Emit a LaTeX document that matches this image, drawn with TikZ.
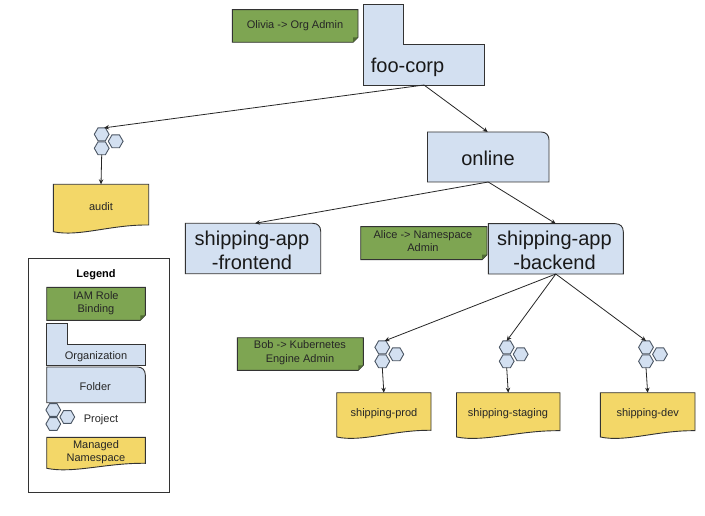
\documentclass[tikz,border=0pt]{standalone}
\usepackage{fontspec}
\setmainfont{Liberation Sans}
\usetikzlibrary{arrows.meta,shapes.geometric}
\definecolor{greenfill}{HTML}{7EA552}
\definecolor{greenfold}{HTML}{4F6B33}
\definecolor{bluefill}{HTML}{D3E0F1}
\definecolor{yellowfill}{HTML}{F3D768}
\definecolor{inkline}{HTML}{333333}
\definecolor{hexline}{HTML}{4A5563}
\tikzset{
  anchorbox/.style={inner sep=0pt,outer sep=0pt,draw=none},
  outlined/.style={draw=inkline,line width=0.9pt,line join=miter},
  noteshape/.style={outlined,fill=greenfill},
  blueshape/.style={outlined,fill=bluefill},
  docshape/.style={outlined,fill=yellowfill},
  hexnode/.style={regular polygon,regular polygon sides=6,minimum size=14.8pt,inner sep=0pt,outer sep=0pt,draw=hexline,line width=0.9pt,fill=bluefill},
  smalltext/.style={align=center,inner sep=0pt,yshift=-1.3pt,text=black!85,font=\fontsize{11}{13.3}\selectfont},
  bigtext/.style={align=center,inner sep=0pt,yshift=-1pt,text=black!90,font=\fontsize{20}{23.8}\selectfont},
  legendtitle/.style={inner sep=0pt,yshift=-0.7pt,font=\fontsize{11}{13.3}\selectfont\bfseries},
  legendbox/.style={draw=inkline,line width=0.9pt,fill=white},
  connector/.style={draw=black!85,line width=0.8pt,-{Stealth[length=5pt,width=4.5pt]}}
}
\newcommand{\placebox}[5]{\node[anchorbox,minimum width={(#4-#2)*1pt},minimum height={(#5-#3)*1pt}] (#1) at ({(#2+#4)/2},{(#3+#5)/2}) {};}
\newcommand{\notebox}[5]{%
  \draw[noteshape] (#2,#3) -- (#4,#3) -- (#4,{#5-5}) -- ({#4-5},#5) -- (#2,#5) -- cycle;
  \fill[greenfold] (#4,{#5-5}) -- ({#4-5},{#5-5}) -- ({#4-5},#5) -- cycle;
  \placebox{#1}{#2}{#3}{#4}{#5}}
\newcommand{\folderbox}[5]{%
  \draw[blueshape] (#2,#3) -- ({#4-8},#3) .. controls ({#4-3},#3) and (#4,{#3+3}) .. (#4,{#3+8}) -- (#4,#5) -- (#2,#5) -- cycle;
  \placebox{#1}{#2}{#3}{#4}{#5}}
% name x1 y1 x2 y2 notchx notchy
\newcommand{\orgbox}[7]{%
  \draw[blueshape] (#2,#3) -- (#6,#3) -- (#6,#7) -- (#4,#7) -- (#4,#5) -- (#2,#5) -- cycle;
  \placebox{#1}{#2}{#3}{#4}{#5}}
% name x1 y1 x2 yleft yright
\newcommand{\docbox}[6]{%
  \draw[docshape] (#2,#3) -- (#4,#3) -- (#4,#6) .. controls ({#2+0.6*(#4-#2)},{#6-0.5}) and ({#2+0.27*(#4-#2)},{#5+5.5}) .. (#2,#5) -- cycle;
  \placebox{#1}{#2}{#3}{#4}{#5}}
% prefix x y of the top hexagon
\newcommand{\hexcluster}[3]{%
  \node[hexnode] (#1a) at (#2,#3) {};
  \node[hexnode] (#1b) at ({#2+14},{#3+7}) {};
  \node[hexnode] (#1c) at (#2,{#3+14}) {};}
\begin{document}
\begin{tikzpicture}[x=1pt,y=-1pt]
\useasboundingbox (0,0) rectangle (705,516);
\fill[white] (0,0) rectangle (705,516);

% Hierarchy shapes
\notebox{olivia}{232.3}{9.7}{358}{42.3}
\orgbox{foo}{363.3}{4.3}{484.7}{85}{403.3}{44.3}
\folderbox{online}{427.5}{132}{549}{182}
\folderbox{frontend}{185.3}{223.3}{320.7}{273.7}
\notebox{alice}{360.7}{226.7}{487}{259.7}
\folderbox{backend}{488.3}{223.7}{623.3}{274}
\notebox{bob}{237.3}{337.7}{363.3}{370.3}
\docbox{audit}{53.3}{184.3}{148.7}{231.7}{225}
\docbox{prod}{336.7}{392.7}{431}{437}{430.3}
\docbox{staging}{456.5}{392.7}{560}{437}{430.7}
\docbox{dev}{600.3}{392.7}{695}{437}{430.7}
\hexcluster{ha}{101.7}{134.3}
\hexcluster{hp}{382.3}{347.3}
\hexcluster{hs}{506.7}{347.3}
\hexcluster{hd}{646}{347.3}

% Hierarchy labels
\node[smalltext] (oliviat) at (295,24) {Olivia -> Org Admin};
\node[bigtext,anchor=west] (foot) at (370.7,66.5) {foo-corp};
\node[bigtext] (onlinet) at (488,157) {online};
\node[bigtext] (frontendt) at (252,249) {shipping-app\\-frontend};
\node[smalltext] (alicet) at (423,240) {Alice -> Namespace\\Admin};
\node[bigtext] (backendt) at (554.5,249) {shipping-app\\-backend};
\node[smalltext] (bobt) at (300,351.5) {Bob -> Kubernetes\\Engine Admin};
\node[smalltext] (auditt) at (101,205) {audit};
\node[smalltext] (prodt) at (384,412.3) {shipping-prod};
\node[smalltext] (stagingt) at (508,412.3) {shipping-staging};
\node[smalltext] (devt) at (647.7,412.3) {shipping-dev};

% Connectors
\draw[connector] (foo.south) -- (haa.70);
\draw[connector] (foo.south) -- ([xshift=-0.5pt]online.north);
\draw[connector] (online.south) -- ([xshift=2pt]frontend.north);
\draw[connector] (online.south) -- (backend.north);
\draw[connector] (backend.south) -- (hpa.70);
\draw[connector] (backend.south) -- (hsa.north);
\draw[connector] (backend.south) -- (hda.north);
\draw[connector] (hac.south) -- (audit.north);
\draw[connector] (hpc.south) -- (prod.north);
\draw[connector] (hsc.south) -- (staging.north);
\draw[connector] (hdc.south) -- (dev.north);

% Legend
\node[legendbox,anchor=north west,inner sep=0pt,minimum width=141.6pt,minimum height=233.4pt] (legend) at (27.7,258.3) {};
\node[legendtitle] (legendt) at (96,274.3) {Legend};
\notebox{lnote}{46.7}{287.3}{145.3}{320.3}
\node[smalltext] (lnotet) at (96,301.7) {IAM Role\\Binding};
\orgbox{lorg}{46.7}{323.3}{145.3}{365.7}{67.7}{344.3}
\node[smalltext] (lorgt) at (96,355.7) {Organization};
\folderbox{lfolder}{46.7}{367}{145.3}{402.7}
\node[smalltext] (lfoldert) at (95.3,385.3) {Folder};
\hexcluster{hl}{53.3}{410}
\node[smalltext] (lprojt) at (101,418.3) {Project};
\docbox{ldoc}{46.7}{437.3}{145.3}{468.3}{463.3}
\node[smalltext] (ldoct) at (96,450.7) {Managed\\Namespace};
\end{tikzpicture}
\end{document}
